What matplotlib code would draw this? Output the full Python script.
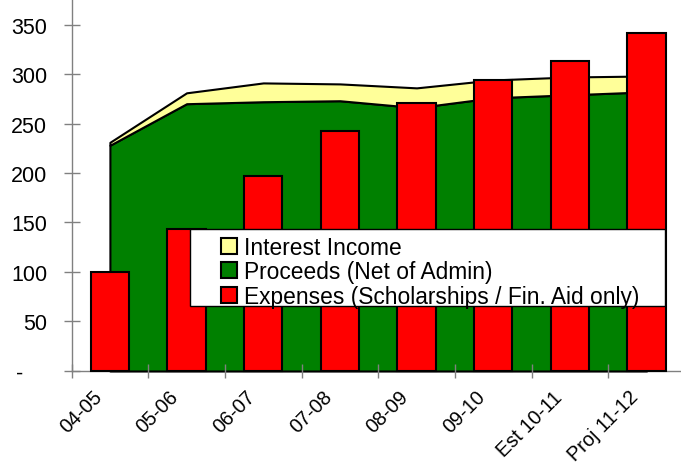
import matplotlib
matplotlib.use('Agg')
import matplotlib.pyplot as plt
import matplotlib.transforms as mtransforms
import numpy as np
from matplotlib.patches import Patch, Rectangle

years = ["04-05", "05-06", "06-07", "07-08", "08-09", "09-10", "Est 10-11", "Proj 11-12"]
proceeds = [228, 270, 272, 273, 266, 276, 279, 282]
interest = [3, 11, 19, 17, 20, 18, 18, 16]
expenses = [100, 143, 197, 242, 271, 294, 313, 341]
yticks = [0, 50, 100, 150, 200, 250, 300, 350]
ytick_labels = ["-    " if v == 0 else str(v) for v in yticks]

c_interest = "#ffff99"
c_proceeds = "#008000"
c_expenses = "#ff0000"
grey = "#808080"

plt.rcParams['font.family'] = ['Liberation Sans', 'DejaVu Sans']

fig = plt.figure(figsize=(6.81, 4.64), dpi=100)
# plot area runs slightly past the right and top edges (cropped chart)
ax = fig.add_axes([0.1051, 0.1983, 0.9007, 0.8534])

x = np.arange(len(years))
total = np.array(proceeds) + np.array(interest)

ax.fill_between(x, 0, proceeds, facecolor=c_proceeds, edgecolor="black",
                linewidth=1.5, zorder=1, clip_on=False)
ax.fill_between(x, proceeds, total, facecolor=c_interest, edgecolor="black",
                linewidth=1.5, zorder=1, clip_on=False)
ax.bar(x, expenses, width=0.5, color=c_expenses, edgecolor="black",
       linewidth=1.5, zorder=2, clip_on=False)

ax.set_xlim(-0.5, len(years) - 0.5)
ax.set_ylim(0, 400)

for side in ["top", "right"]:
    ax.spines[side].set_visible(False)
for side in ["left", "bottom"]:
    ax.spines[side].set_color(grey)
    ax.spines[side].set_linewidth(1)
    ax.spines[side].set_zorder(0.5)

ax.set_yticks(yticks)
ax.set_yticklabels(ytick_labels)
ax.tick_params(axis="y", direction="inout", length=11, width=1, color=grey,
               pad=12, labelsize=15.5)

ax.set_xticks(x)
ax.set_xticks(np.arange(len(years) + 1) - 0.5, minor=True)
ax.set_xticklabels(years, rotation=45, ha="right", va="center",
                   rotation_mode="anchor")
ax.tick_params(axis="x", which="major", length=0, pad=18, labelsize=14.3)
ax.tick_params(axis="x", which="minor", direction="inout", length=9.5,
               width=1, color=grey)
shift = mtransforms.ScaledTranslation(-11 / 100, 2.5 / 100, fig.dpi_scale_trans)
for lab in ax.get_xticklabels():
    lab.set_transform(lab.get_transform() + shift)

# legend box
frame = Rectangle((190 / 681, 1 - 307 / 464), 475 / 681, 77 / 464,
                  transform=fig.transFigure, facecolor="white",
                  edgecolor="black", linewidth=1, zorder=4, clip_on=False)
ax.add_artist(frame)
handles = [
    Patch(facecolor=c_interest, edgecolor="black", linewidth=1.5, label="Interest Income"),
    Patch(facecolor=c_proceeds, edgecolor="black", linewidth=1.5, label="Proceeds (Net of Admin)"),
    Patch(facecolor=c_expenses, edgecolor="black", linewidth=1.5,
          label="Expenses (Scholarships / Fin. Aid only)"),
]
leg = ax.legend(handles=handles, loc="upper left",
                bbox_to_anchor=(221 / 681, 1 - 237 / 464),
                bbox_transform=fig.transFigure, frameon=False, fontsize=16.4,
                handlelength=0.7, handleheight=0.7, handletextpad=0.3,
                labelspacing=0.06, borderpad=0, borderaxespad=0)
leg.set_zorder(5)

fig.savefig("out.png", dpi=100)
